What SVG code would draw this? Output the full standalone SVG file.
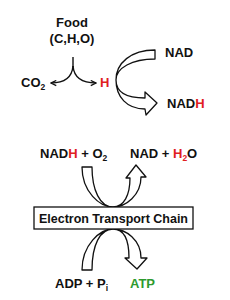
<svg xmlns="http://www.w3.org/2000/svg" width="230" height="300" viewBox="0 0 230 300">
<defs>
<style>
text{font-family:"Liberation Sans",Arial,sans-serif;font-weight:bold;font-size:13px;fill:#111}
.r{fill:#e02020}
.g{fill:#2e9a2e}
.sub{font-size:8.5px}
.big{fill:#fff;stroke:#111;stroke-width:1.3;stroke-linejoin:round}
.thin{fill:none;stroke:#111;stroke-width:1.4}
</style>
<marker id="ah" viewBox="0 0 8 8" refX="7" refY="4" markerWidth="7" markerHeight="7" markerUnits="userSpaceOnUse" orient="auto">
<path d="M1,1 L7,4 L1,7" fill="none" stroke="#111" stroke-width="1.3"/>
</marker>
</defs>
<rect width="230" height="300" fill="#fff"/>
<g id="connectors">
<path class="thin" d="M73,57 L73,67"/>
<path class="thin" d="M73,66 C72,78 64,83 51,83" marker-end="url(#ah)"/>
<path class="thin" d="M73,66 C74,78 82,83 96,83" marker-end="url(#ah)"/>
<path class="big" d="M155,50 C131,50 116,63 116,80 C116,93 128,98 145,98 L145,92 L157,103 L146,115 L145,109 C127,109 116,97 116,80 C116,68 132,59 155,59 Z"/>
<path class="big" d="M82,167 C82,192 100,207 113,207 C124,207 130,195 130,178 L126,178 L136,165 L146,177 L141,177 C141,195 126,207 113,207 C100,207 92,190 92,167 Z"/>
<path class="big" d="M82,270 C82,245 100,229 113,229 C125,229 129,242 129,258 L125,258 L137,269 L147,258 L141,258 C141,240 126,229 113,229 C100,229 92,245 92,270 Z"/>
</g>
<g id="food"><text x="72" y="27" text-anchor="middle">Food</text><text x="72" y="43" text-anchor="middle">(C,H,O)</text></g>
<g id="co2"><text x="21" y="87">CO<tspan class="sub" dy="3">2</tspan></text></g>
<g id="h"><text x="100" y="87" class="r">H</text></g>
<g id="nad"><text x="165" y="57">NAD</text></g>
<g id="nadh"><text x="167" y="108">NAD<tspan class="r">H</tspan></text></g>
<g id="nadh-o2"><text x="40" y="158">NAD<tspan class="r">H</tspan> + O<tspan class="sub" dy="3">2</tspan></text></g>
<g id="nad-h2o"><text x="130" y="158">NAD + <tspan class="r">H</tspan><tspan class="sub r" dy="3">2</tspan><tspan dy="-3">O</tspan></text></g>
<g id="etc"><rect x="34" y="207" width="159" height="22" fill="#fff" stroke="#111" stroke-width="1.3"/><text x="113.5" y="222.5" text-anchor="middle" textLength="149" lengthAdjust="spacingAndGlyphs">Electron Transport Chain</text></g>
<g id="adp"><text x="55" y="288">ADP + P<tspan class="sub" dy="3">i</tspan></text></g>
<g id="atp"><text x="130" y="288" class="g">ATP</text></g>
</svg>
